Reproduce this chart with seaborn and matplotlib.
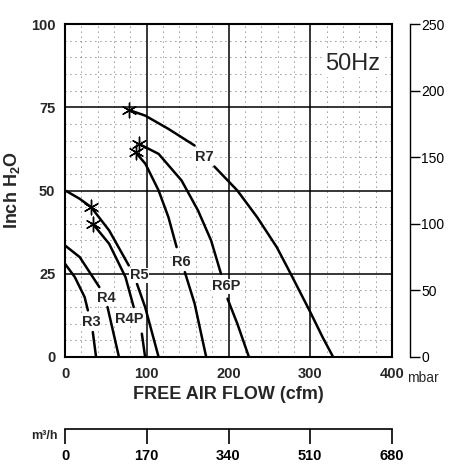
import matplotlib
matplotlib.use('Agg')
import matplotlib.pyplot as plt
from matplotlib.ticker import MultipleLocator

import numpy as np
import pandas as pd
import seaborn as sns

sns.set_theme(style="white")
plt.rcParams['font.family'] = ['Liberation Sans', 'DejaVu Sans']
plt.rcParams['mathtext.fontset'] = 'custom'
plt.rcParams['mathtext.rm'] = 'Liberation Sans'
plt.rcParams['mathtext.bf'] = 'Liberation Sans:bold'

NAN = np.nan

# pressure curves (cfm, inch H2O); NaN = gap for the label
r3_cfm = [0, 12, 24, 28, NAN, 34, 38]
r3_h2o = [28, 24, 18, 14, NAN, 7.5, 0]
r4_cfm = [0, 18, 42, NAN, 52, 66]
r4_h2o = [33.5, 30, 21, NAN, 15, 0]
r4p_cfm = [34, 54, 74, 84, NAN, 94, 98]
r4p_h2o = [40, 34, 24, 15, NAN, 7, 0]
r5_cfm = [0, 4, 18, 32, 54, 78, NAN, 88, 98, 114.5]
r5_h2o = [50, 49.5, 47.5, 45, 38, 27.5, NAN, 22, 15, 0]
r6_cfm = [86.3, 98.4, 114.5, 126.5, 136.5, NAN, 146.6, 158.6, 172.7]
r6_h2o = [61.5, 58, 50, 42, 33, NAN, 25.5, 16, 0]
r6p_cfm = [90.4, 114.5, 142.6, 162.7, 178.7, 190.8, NAN, 198.8, 210.8, 225]
r6p_h2o = [64, 61, 53, 44, 35, 25, NAN, 17.5, 10, 0]
r7_cfm = [78, 98, 126.5, 158.6, NAN, 182.7, 210.8, 235, 259, 275, 299, 315, 328]
r7_h2o = [74.2, 72.5, 68.5, 63.5, NAN, 57.2, 50, 42, 33, 25.5, 14, 6, 0]

star_cfm = [78, 90.4, 86.3, 32, 34]
star_h2o = [74.2, 64, 61.5, 45, 40]

label_names = ['R3', 'R4', 'R4P', 'R5', 'R6', 'R6P', 'R7']
label_cfm = [32, 50, 78, 90.4, 142.6, 197, 170.7]
label_h2o = [10.5, 17.8, 11.5, 24.5, 28.5, 21.2, 60.2]

y_ticks = [0, 25, 50, 75, 100]
x_ticks = [0, 100, 200, 300, 400]
mbar_ticks = [0, 50, 100, 150, 200, 250]
m3h_ticks = [0, 170, 340, 510, 680]

curves = {'R3': (r3_cfm, r3_h2o), 'R4': (r4_cfm, r4_h2o), 'R4P': (r4p_cfm, r4p_h2o),
          'R5': (r5_cfm, r5_h2o), 'R6': (r6_cfm, r6_h2o), 'R6P': (r6p_cfm, r6p_h2o),
          'R7': (r7_cfm, r7_h2o)}
rows = []
for name, (xs, ys) in curves.items():
    seg = 0
    for x, y in zip(xs, ys):
        if np.isnan(x):
            seg += 1
            continue
        rows.append({'curve': name, 'seg': f'{name}-{seg}', 'cfm': x, 'h2o': y})
df = pd.DataFrame(rows)

fig = plt.figure(figsize=(4.5, 4.66), dpi=100)
ax = fig.add_axes([65 / 450, 1 - 357 / 466, 327 / 450, 333 / 466])

ax.set_xlim(0, 400)
ax.set_ylim(0, 100)
ax.set_xticks(x_ticks)
ax.set_yticks(y_ticks)
ax.xaxis.set_minor_locator(MultipleLocator(20))
ax.yaxis.set_minor_locator(MultipleLocator(5))
ax.grid(which='major', color='black', lw=1.1)
ax.grid(which='minor', color='#333333', lw=0.6, linestyle=(0, (1, 5)))
ax.set_axisbelow(True)
for sp in ax.spines.values():
    sp.set_color('black')
    sp.set_linewidth(1.5)
ax.tick_params(which='both', length=0)
ax.tick_params(axis='both', labelsize=10.5, pad=7)
for lab in ax.get_xticklabels() + ax.get_yticklabels():
    lab.set_fontweight('bold')

sns.lineplot(data=df, x='cfm', y='h2o', units='seg', estimator=None, sort=False,
             color='black', lw=1.8, legend=False, ax=ax)
ax.scatter(star_cfm, star_h2o, marker=(6, 2, 0), s=110, color='black', linewidths=1, zorder=5)

for name, cx, cy in zip(label_names, label_cfm, label_h2o):
    ax.text(cx, cy, name, ha='center', va='center', fontsize=10.5, fontweight='bold',
            bbox=dict(boxstyle='square,pad=0.05', fc='white', ec='none'), zorder=6)

ax.text(352, 88, '50Hz', ha='center', va='center', fontsize=17,
        bbox=dict(boxstyle='square,pad=0.1', fc='white', ec='none'))

ax.set_xlabel('FREE AIR FLOW (cfm)', fontsize=13, fontweight='bold', labelpad=4)
ax.set_ylabel(r'Inch H$_\mathbf{2}$O', fontsize=13, fontweight='bold', labelpad=6)

# mbar scale on the right
ax2 = ax.twinx()
ax2.set_ylim(0, 250)
ax2.set_yticks(mbar_ticks)
for k in ['top', 'left', 'bottom']:
    ax2.spines[k].set_visible(False)
ax2.spines['right'].set_position(('outward', 13))
ax2.spines['right'].set_linewidth(1)
ax2.spines['right'].set_color('black')
ax2.tick_params(axis='y', direction='out', length=7, width=1, labelsize=10, pad=1, colors='black')
ax2.grid(False)

# m3/h scale below
ax3 = ax.twiny()
ax3.set_xlim(0, 680)
ax3.set_xticks(m3h_ticks)
ax3.xaxis.set_ticks_position('bottom')
ax3.xaxis.set_label_position('bottom')
for k in ['top', 'left', 'right']:
    ax3.spines[k].set_visible(False)
ax3.spines['bottom'].set_position(('outward', 52))
ax3.spines['bottom'].set_linewidth(1.2)
ax3.spines['bottom'].set_color('black')
ax3.tick_params(axis='x', direction='out', length=11, width=1.2, labelsize=10.5, pad=3, colors='black')
for lab in ax3.get_xticklabels():
    lab.set_fontweight('bold')
ax3.grid(False)

fig.text(423 / 450, 1 - 378 / 466, 'mbar', ha='center', va='center', fontsize=10)
fig.text(44 / 450, 1 - 436 / 466, 'm³/h', ha='center', va='center', fontsize=9, fontweight='bold')

fig.savefig('out.png', dpi=100)
plt.close(fig)
